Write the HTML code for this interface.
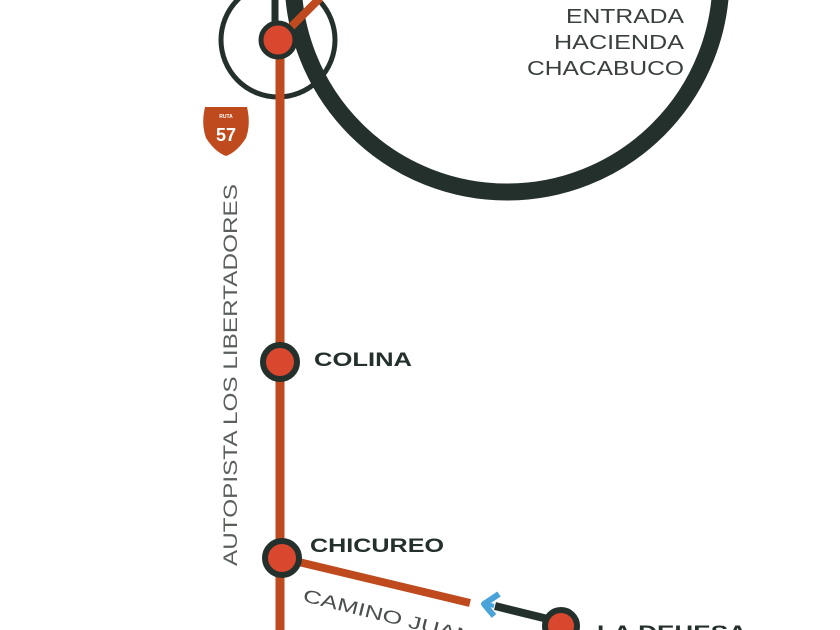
<!DOCTYPE html>
<html><head><meta charset="utf-8"><style>
html,body{margin:0;padding:0;background:#fff;}
svg{display:block;}
text{font-family:"Liberation Sans",sans-serif;}
</style></head><body>
<svg width="840" height="630" viewBox="0 0 840 630" xmlns="http://www.w3.org/2000/svg">
<circle cx="507" cy="-22" r="214" fill="none" stroke="#24302b" stroke-width="17"/>
<circle cx="278" cy="40" r="57" fill="none" stroke="#24302b" stroke-width="5"/>
<line x1="280" y1="40" x2="280" y2="630" stroke="#bf4a1e" stroke-width="9"/>
<line x1="278" y1="40" x2="320" y2="-2" stroke="#bf4a1e" stroke-width="8"/>
<line x1="275" y1="0" x2="275" y2="40" stroke="#24302b" stroke-width="7"/>
<line x1="282" y1="558" x2="470" y2="603" stroke="#bf4a1e" stroke-width="8"/>
<line x1="495" y1="606" x2="560" y2="622" stroke="#24302b" stroke-width="8"/>
<path d="M499 594 L484 604 L494 616" fill="none" stroke="#4aa3d8" stroke-width="6" stroke-linejoin="round"/>
<line x1="486" y1="604" x2="494" y2="606" stroke="#4aa3d8" stroke-width="4"/>
<circle cx="278" cy="40" r="17" fill="#d9472e" stroke="#24302b" stroke-width="5"/>
<circle cx="280" cy="362" r="17" fill="#d9472e" stroke="#24302b" stroke-width="6"/>
<circle cx="282" cy="558" r="17" fill="#d9472e" stroke="#24302b" stroke-width="6"/>
<circle cx="561" cy="626" r="16" fill="#d9472e" stroke="#24302b" stroke-width="6"/>
<path d="M205 107 L247 107 Q251 124 246 138 Q237 152 226 156 Q215 152 206 138 Q201 124 205 107 Z" fill="#bf4a1e"/>
<text x="226" y="118" font-size="5" fill="#fff" text-anchor="middle" font-weight="bold">RUTA</text>
<text x="226" y="141" font-size="18" fill="#fff" text-anchor="middle" font-weight="bold">57</text>
<text x="566" y="23" font-size="20" fill="#3a403d" textLength="118" lengthAdjust="spacingAndGlyphs">ENTRADA</text>
<text x="554" y="49" font-size="20" fill="#3a403d" textLength="130" lengthAdjust="spacingAndGlyphs">HACIENDA</text>
<text x="527" y="75" font-size="20" fill="#3a403d" textLength="157" lengthAdjust="spacingAndGlyphs">CHACABUCO</text>
<text x="314" y="366" font-size="19" font-weight="bold" fill="#24302b" textLength="98" lengthAdjust="spacingAndGlyphs">COLINA</text>
<text x="310" y="552" font-size="19" font-weight="bold" fill="#24302b" textLength="134" lengthAdjust="spacingAndGlyphs">CHICUREO</text>
<text x="597" y="639" font-size="19" font-weight="bold" fill="#24302b" textLength="150" lengthAdjust="spacingAndGlyphs">LA DEHESA</text>
<text x="0" y="0" font-size="19" fill="#5a5f5c" transform="translate(237,566) rotate(-90)" textLength="382" lengthAdjust="spacingAndGlyphs">AUTOPISTA LOS LIBERTADORES</text>
<text x="0" y="0" font-size="18" fill="#4a4f4c" transform="translate(302,601) rotate(14)" textLength="175" lengthAdjust="spacingAndGlyphs">CAMINO JUAN</text>
</svg>
</body></html>
